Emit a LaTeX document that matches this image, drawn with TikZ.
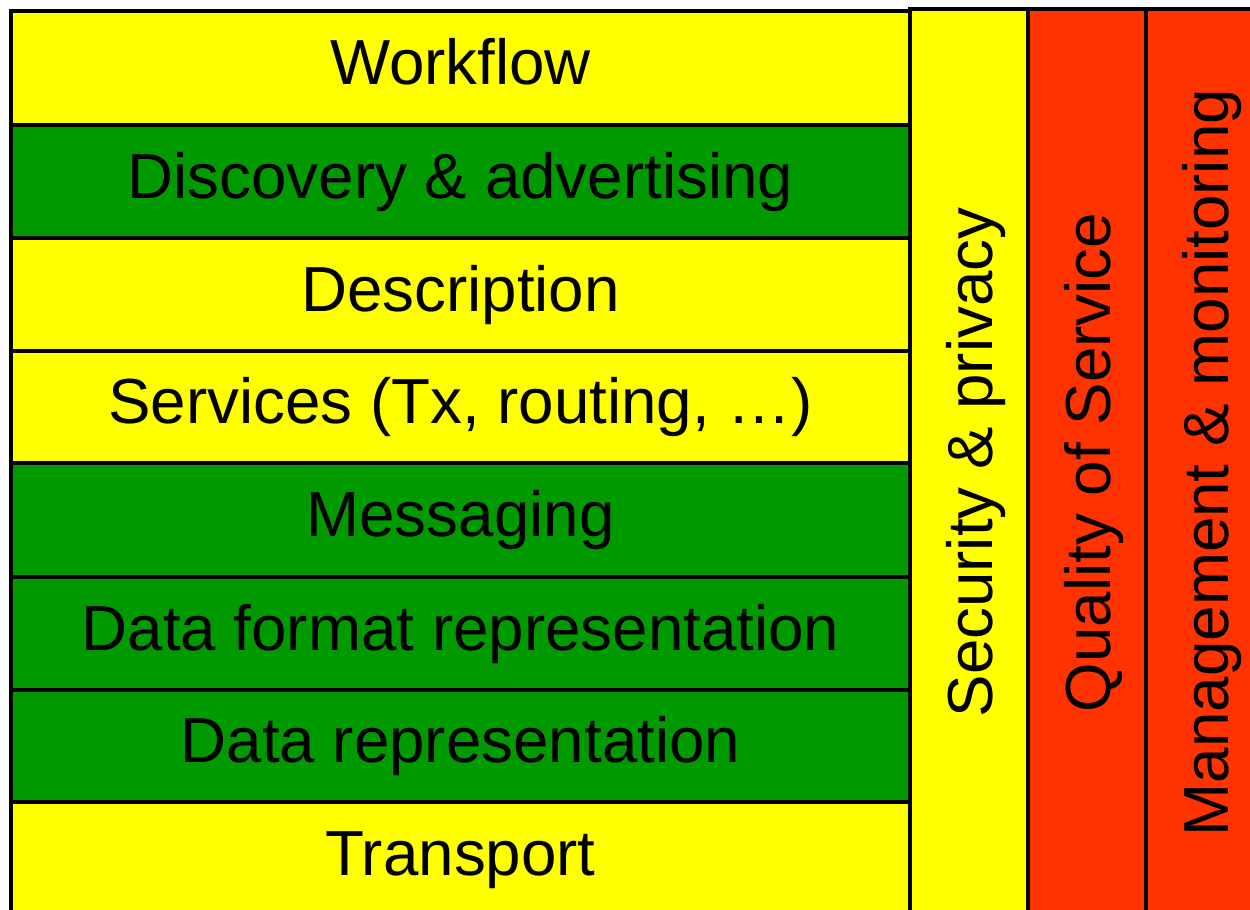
\documentclass[tikz,border=0pt]{standalone}
\usepackage{fontspec}
\setmainfont{Liberation Sans}
\definecolor{yel}{HTML}{FFFF00}
\definecolor{grn}{HTML}{009900}
\definecolor{org}{HTML}{FF3300}
\begin{document}
\begin{tikzpicture}[x=1pt,y=-1pt,
  box/.style={draw=black, line width=3.3pt, inner sep=0pt,
    font=\fontsize{63.7}{76}\selectfont, text height=46pt, text depth=13pt},
  layer/.style={box, minimum width=899pt},
  column/.style={box, rotate=90, minimum width=907pt, minimum height=118pt, text depth=0pt}]
\useasboundingbox (0,0) rectangle (1250,910);
\node[layer, fill=yel, minimum height=114pt] (workflow) at (460.5,68) {Workflow};
\node[layer, fill=grn, minimum height=113pt] (discovery) at (460.5,181.5) {Discovery \& advertising};
\node[layer, fill=yel, minimum height=113pt] (description) at (460.5,294.5) {Description};
\node[layer, fill=yel, minimum height=112pt] (services) at (460.5,407) {Services (Tx, routing, …)};
\node[layer, fill=grn, minimum height=114pt] (messaging) at (460.5,520) {Messaging};
\node[layer, fill=grn, minimum height=113pt] (dataformat) at (460.5,633.5) {Data format representation};
\node[layer, fill=grn, minimum height=112pt] (datarep) at (460.5,746) {Data representation};
\node[layer, fill=yel, minimum height=114pt] (transport) at (460.5,859) {Transport};
\node[column, fill=yel] (security) at (969,462.5) {Security \& privacy};
\node[column, fill=org] (qos) at (1087,462.5) {Quality of Service};
\node[column, fill=org] (mgmt) at (1205,462.5) {Management \& monitoring};
\end{tikzpicture}
\end{document}
